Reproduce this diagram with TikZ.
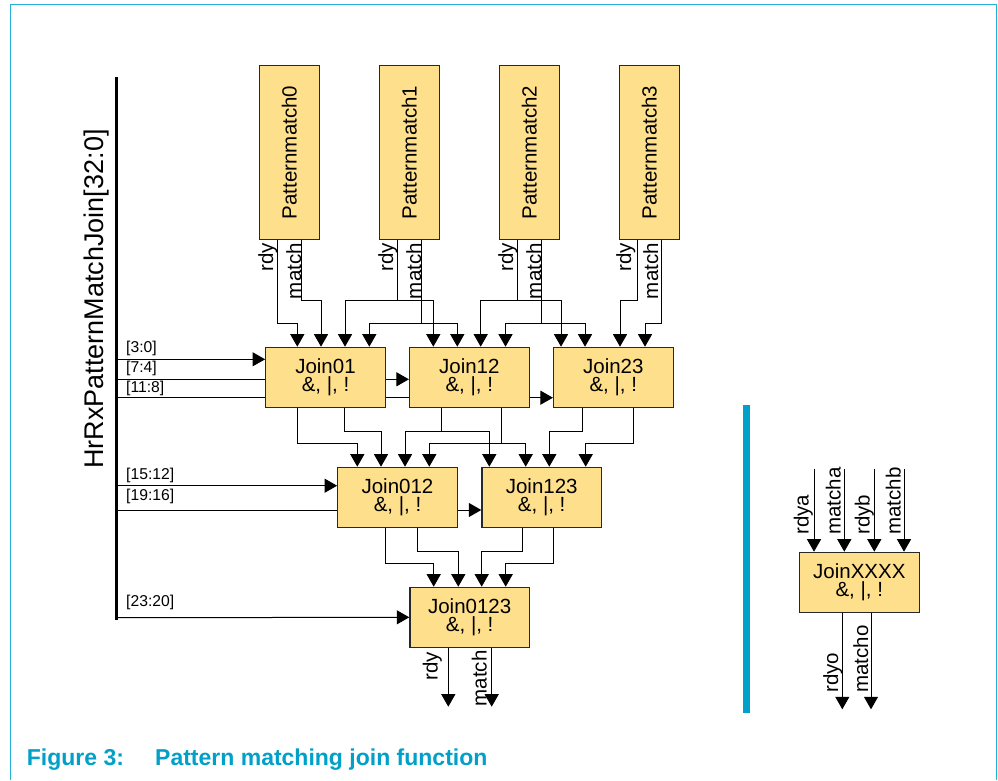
\documentclass[tikz,border=0pt]{standalone}
\usepackage{fontspec}
\setmainfont{Liberation Sans}
\usepackage{graphicx}
\usetikzlibrary{arrows.meta}
\definecolor{boxfill}{RGB}{254,223,140}
\definecolor{boxdraw}{RGB}{40,40,40}
\definecolor{figcyan}{RGB}{0,160,200}
\definecolor{framecyan}{RGB}{40,175,215}
\begin{document}
\begin{tikzpicture}[x=1pt,y=-1pt,
  pmbox/.style={draw=boxdraw,fill=boxfill,line width=1.2pt,minimum width=60pt,minimum height=173.6pt,inner sep=0pt,font=\fontsize{20.5}{20}\selectfont},
  joinbox/.style={draw=boxdraw,fill=boxfill,line width=1.2pt,minimum width=119.6pt,minimum height=60pt,inner sep=0pt,align=center,font=\fontsize{20.5}{17.7}\selectfont},
  wire/.style={line width=1pt,black},
  arr/.style={wire,-{Triangle[length=12.5pt,width=14pt]}},
  sig/.style={font=\fontsize{20.5}{20}\selectfont,inner sep=0pt,rotate=90},
  bits/.style={font=\fontsize{15.7}{16}\selectfont,inner sep=0pt,anchor=base west},
  captxt/.style={font=\bfseries\fontsize{23}{23}\selectfont,text=figcyan,inner sep=0pt,anchor=base west},
]
\useasboundingbox (0,0) rectangle (998,780);
% frame
\draw[framecyan,line width=1pt] (10.7,780) -- (10.7,4.7) -- (996.7,4.7) -- (996.7,780);
% blue bar
\fill[figcyan] (742.7,405) rectangle (750,712.7);

% pattern match boxes
\node[pmbox] (p0) at (289.3,152.5) {\rotatebox{90}{Patternmatch0}};
\node[pmbox] (p1) at (409.3,152.5) {\rotatebox{90}{Patternmatch1}};
\node[pmbox] (p2) at (529.3,152.5) {\rotatebox{90}{Patternmatch2}};
\node[pmbox] (p3) at (649.3,152.5) {\rotatebox{90}{Patternmatch3}};

% join boxes
\node[joinbox] (j01) at (325.5,377.3) {Join01\\\&, |, !};
\node[joinbox] (j12) at (469.3,377.3) {Join12\\\&, |, !};
\node[joinbox] (j23) at (613.3,377.3) {Join23\\\&, |, !};
\node[joinbox] (j012) at (397.5,497.3) {Join012\\\&, |, !};
\node[joinbox] (j123) at (541.7,497.3) {Join123\\\&, |, !};
\node[joinbox] (j0123) at (469.7,617.3) {Join0123\\\&, |, !};
\node[joinbox] (jx) at (859.3,582.3) {JoinXXXX\\\&, |, !};

% pattern outputs -> first join row
\draw[arr] ([xshift=-12pt]p0.south) |- (297.3,323.3) -- (297.3,0 |- j01.north);
\draw[arr] ([xshift=12.4pt]p0.south) |- (321,300) -- (321,0 |- j01.north);
\draw[arr] ([xshift=-12pt]p1.south) |- (345,300) -- (345,0 |- j01.north);
\draw[arr] ([xshift=-12pt]p1.south) |- (433.3,300) -- (433.3,0 |- j12.north);
\draw[arr] ([xshift=12.4pt]p1.south) |- (369.3,323.3) -- (369.3,0 |- j01.north);
\draw[arr] ([xshift=12.4pt]p1.south) |- (457.3,323.3) -- (457.3,0 |- j12.north);
\draw[arr] ([xshift=-12pt]p2.south) |- (480.7,300) -- (480.7,0 |- j12.north);
\draw[arr] ([xshift=-12pt]p2.south) |- (561,300) -- (561,0 |- j23.north);
\draw[arr] ([xshift=12.4pt]p2.south) |- (505.5,323.3) -- (505.5,0 |- j12.north);
\draw[arr] ([xshift=12.4pt]p2.south) |- (585,323.3) -- (585,0 |- j23.north);
\draw[arr] ([xshift=-12pt]p3.south) |- (620,300) -- (620,0 |- j23.north);
\draw[arr] ([xshift=12.4pt]p3.south) |- (645,323.3) -- (645,0 |- j23.north);

% pattern output labels
\node[sig,anchor=base east] (l0r) at (273,243) {rdy};
\node[sig,anchor=base east] (l0m) at (301,243) {match};
\node[sig,anchor=base east] (l1r) at (393,243) {rdy};
\node[sig,anchor=base east] (l1m) at (421,243) {match};
\node[sig,anchor=base east] (l2r) at (513,243) {rdy};
\node[sig,anchor=base east] (l2m) at (541,243) {match};
\node[sig,anchor=base east] (l3r) at (631,243) {rdy};
\node[sig,anchor=base east] (l3m) at (658,243) {match};

% first row -> second row
\draw[arr] ([xshift=-28.2pt]j01.south) |- (357.3,443.3) -- (357.3,0 |- j012.north);
\draw[arr] ([xshift=18.8pt]j01.south) |- (381,431) -- (381,0 |- j012.north);
\draw[arr] ([xshift=-27.6pt]j12.south) |- (405,431) -- (405,0 |- j012.north);
\draw[arr] ([xshift=-27.6pt]j12.south) |- (489.3,431) -- (489.3,0 |- j123.north);
\draw[arr] ([xshift=32pt]j12.south) |- (429.3,443.3) -- (429.3,0 |- j012.north);
\draw[arr] ([xshift=32pt]j12.south) |- (525.7,443.3) -- (525.7,0 |- j123.north);
\draw[arr] ([xshift=-30.6pt]j23.south) |- (549.3,431) -- (549.3,0 |- j123.north);
\draw[arr] ([xshift=20pt]j23.south) |- (585.7,443.3) -- (585.7,0 |- j123.north);

% second row -> third row
\draw[arr] ([xshift=-11.8pt]j012.south) |- (433.7,563.3) -- (433.7,0 |- j0123.north);
\draw[arr] ([xshift=19.5pt]j012.south) |- (458.3,551.7) -- (458.3,0 |- j0123.north);
\draw[arr] ([xshift=-19pt]j123.south) |- (481.7,551.7) -- (481.7,0 |- j0123.north);
\draw[arr] ([xshift=12pt]j123.south) |- (505.7,563.3) -- (505.7,0 |- j0123.north);

% final outputs
\coordinate (o1) at (448.3,706.7);
\coordinate (o2) at (491.7,706.7);
\draw[arr] ([xshift=-21.4pt]j0123.south) -- (o1);
\draw[arr] ([xshift=22pt]j0123.south) -- (o2);
\node[sig,anchor=base west] (lor) at (437.5,681) {rdy};
\node[sig,anchor=base west] (lom) at (486.5,706.5) {match};

% bus
\coordinate (bt) at (116.8,77);
\coordinate (bb) at (116.8,620);
\draw[line width=3pt] (bt) -- (bb);
\node[font=\fontsize{27}{27}\selectfont,rotate=90,inner sep=0pt] (buslbl) at (97,299) {HrRxPatternMatchJoin[32:0]};

\draw[arr] (116.8,359.3) -- ([yshift=18pt]j01.west);
\draw[wire] (116.8,379.3) -- ([yshift=-2pt]j01.west);
\draw[arr] ([yshift=-2pt]j01.east) -- ([yshift=-2pt]j12.west);
\draw[wire] (116.8,397.7) -- ([yshift=-20.4pt]j01.west);
\draw[wire] ([yshift=-20.4pt]j01.east) -- ([yshift=-20.4pt]j12.west);
\draw[arr] ([yshift=-20.4pt]j12.east) -- ([yshift=-20.4pt]j23.west);
\draw[arr] (116.8,485.7) -- ([yshift=11.6pt]j012.west);
\draw[wire] (116.8,510) -- ([yshift=-12.7pt]j012.west);
\draw[arr] ([yshift=-12.7pt]j012.east) -- ([yshift=-12.7pt]j123.west);
\draw[arr] (116.8,617.7) -- (j0123.west);

\node[bits] (b1) at (126,352.3) {[3:0]};
\node[bits] (b2) at (126,372) {[7:4]};
\node[bits] (b3) at (126,392) {[11:8]};
\node[bits] (b4) at (126,479.7) {[15:12]};
\node[bits] (b5) at (126,500.5) {[19:16]};
\node[bits] (b6) at (126,606.3) {[23:20]};

% JoinXXXX legend
\coordinate (xa) at (814,469);
\coordinate (xb) at (844.3,469);
\coordinate (xc) at (874.3,469);
\coordinate (xd) at (904,469);
\draw[arr] (xa) -- ([xshift=-45.3pt]jx.north);
\draw[arr] (xb) -- ([xshift=-15pt]jx.north);
\draw[arr] (xc) -- ([xshift=15pt]jx.north);
\draw[arr] (xd) -- ([xshift=44.7pt]jx.north);
\node[sig,anchor=base west] (lxa) at (808.5,535) {rdya};
\node[sig,anchor=base west] (lxb) at (840.5,535) {matcha};
\node[sig,anchor=base west] (lxc) at (869.5,535) {rdyb};
\node[sig,anchor=base west] (lxd) at (900.5,535) {matchb};
\coordinate (xo1) at (842.3,709.3);
\coordinate (xo2) at (871,709.3);
\draw[arr] ([xshift=-17pt]jx.south) -- (xo1);
\draw[arr] ([xshift=11.7pt]jx.south) -- (xo2);
\node[sig,anchor=base west] (lxo1) at (838,693) {rdyo};
\node[sig,anchor=base west] (lxo2) at (868,693) {matcho};

% caption
\node[captxt] (capA) at (26.7,765) {Figure 3:};
\node[captxt] (capB) at (155,765) {Pattern matching join function};
\end{tikzpicture}
\end{document}
